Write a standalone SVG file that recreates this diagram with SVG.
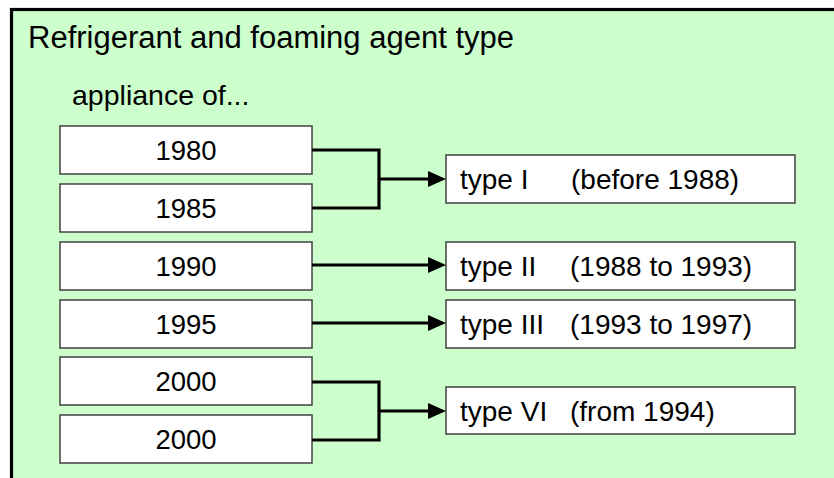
<svg xmlns="http://www.w3.org/2000/svg" width="834" height="478" viewBox="0 0 834 478">
<style>
text{font-family:"Liberation Sans",Arial,sans-serif;fill:#000}
.box{fill:#fff;stroke:#404040;stroke-width:1.5}
.yr{font-size:27.5px;text-anchor:middle}
.ty{font-size:28px}
.conn{fill:none;stroke:#000;stroke-width:3.2}
</style>
<defs>
<marker id="arr" markerUnits="userSpaceOnUse" markerWidth="18" markerHeight="16" refX="12" refY="8" orient="auto">
<path d="M0,0 L18,8 L0,16 z" fill="#000"/>
</marker>
</defs>
<rect x="11.5" y="9.5" width="900" height="600" fill="#ccffcc" stroke="#000" stroke-width="3.2"/>
<text x="28" y="48" font-size="31">Refrigerant and foaming agent type</text>
<text x="72" y="105" font-size="28.5">appliance of...</text>

<g id="y1980"><rect class="box" x="60" y="126" width="252" height="48"/><text class="yr" x="186" y="160">1980</text></g>
<g id="y1985"><rect class="box" x="60" y="184" width="252" height="48"/><text class="yr" x="186" y="218">1985</text></g>
<g id="y1990"><rect class="box" x="60" y="242" width="252" height="48"/><text class="yr" x="186" y="276">1990</text></g>
<g id="y1995"><rect class="box" x="60" y="300" width="252" height="48"/><text class="yr" x="186" y="334">1995</text></g>
<g id="y2000a"><rect class="box" x="60" y="357" width="252" height="48"/><text class="yr" x="186" y="391">2000</text></g>
<g id="y2000b"><rect class="box" x="60" y="415" width="252" height="48"/><text class="yr" x="186" y="449">2000</text></g>

<g id="typeI"><rect class="box" x="446" y="155" width="349" height="48"/><text class="ty" x="460" y="189">type I</text><text class="ty" x="571" y="189">(before 1988)</text></g>
<g id="typeII"><rect class="box" x="446" y="242" width="349" height="48"/><text class="ty" x="460" y="276">type II</text><text class="ty" x="570" y="276">(1988 to 1993)</text></g>
<g id="typeIII"><rect class="box" x="446" y="300" width="349" height="48"/><text class="ty" x="460" y="334">type III</text><text class="ty" x="570" y="334">(1993 to 1997)</text></g>
<g id="typeVI"><rect class="box" x="446" y="387" width="349" height="47"/><text class="ty" x="460" y="421">type VI</text><text class="ty" x="570" y="421">(from 1994)</text></g>

<g id="connectors">
<path class="conn" d="M312,150 H379 V208 H312"/>
<path class="conn" d="M379,179 H440" marker-end="url(#arr)"/>
<path class="conn" d="M312,265 H440" marker-end="url(#arr)"/>
<path class="conn" d="M312,323 H440" marker-end="url(#arr)"/>
<path class="conn" d="M312,382 H379 V440 H312"/>
<path class="conn" d="M379,411 H440" marker-end="url(#arr)"/>
</g>
</svg>
